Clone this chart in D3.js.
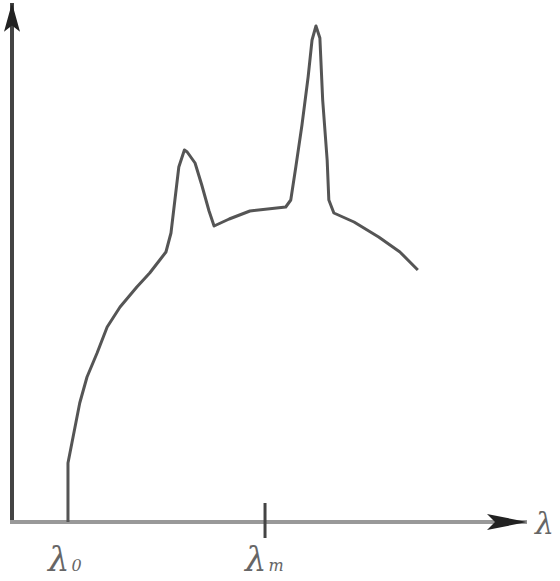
<!DOCTYPE html>
<html>
<head>
<meta charset="utf-8">
<script src="https://cdn.jsdelivr.net/npm/d3@7"></script>
<style>
  body { margin: 0; background: #fff; }
  svg { display: block; }
</style>
</head>
<body>
<svg id="chart" width="560" height="581"></svg>
<script>
// spectrum (arbitrary units)
var wavelength = [1.0, 1.0, 1.07, 1.21, 1.34, 1.52, 1.70, 1.93, 2.23, 2.46, 2.64, 2.75, 2.84,
                  2.91, 2.98, 3.08, 3.13, 3.27, 3.39, 3.52, 3.61, 3.88, 4.25, 4.89, 4.98,
                  5.07, 5.18, 5.29, 5.36, 5.43, 5.50, 5.55, 5.63, 5.66, 5.75, 6.11, 6.55, 6.93, 7.25];
var intensity  = [0, 11.8, 15.8, 23.8, 29, 33.8, 39, 43, 47, 49.8, 52.4, 54, 57.8,
                  64.4, 71, 74.4, 74, 71.8, 67.4, 62.2, 59.2, 60.6, 62.2, 63, 64.4,
                  71, 79.4, 89, 96.4, 99.2, 96.8, 84.4, 72.4, 64.4, 61.8, 60, 57, 54, 50.4];
var tickValues = [1.0, 4.52];
var tickSubs   = ["0", "m"];

var svg = d3.select("#chart"),
    width = +svg.attr("width"),
    height = +svg.attr("height");

var x = d3.scaleLinear().domain([0, 9.2]).range([12, 527]);
var y = d3.scaleLinear().domain([0, 100]).range([522, 22]);

var points = wavelength.map(function(d, i) { return [d, intensity[i]]; });

var defs = svg.append("defs");
defs.append("marker")
    .attr("id", "arrowUp")
    .attr("viewBox", "0 0 10 20")
    .attr("refX", 5).attr("refY", 0)
    .attr("markerUnits", "userSpaceOnUse")
    .attr("markerWidth", 16).attr("markerHeight", 40)
    .attr("orient", "0")
  .append("path")
    .attr("d", "M5,0 L10,18 L5,14 L0,18 Z")
    .attr("fill", "#222");

defs.append("marker")
    .attr("id", "arrowRight")
    .attr("viewBox", "0 0 20 12")
    .attr("refX", 20).attr("refY", 6)
    .attr("markerUnits", "userSpaceOnUse")
    .attr("markerWidth", 40).attr("markerHeight", 24)
    .attr("orient", "0")
  .append("path")
    .attr("d", "M0,2 L20,6 L0,10 L4,6 Z")
    .attr("fill", "#222");

// axes
svg.append("line")
    .attr("x1", x(0)).attr("y1", y(0) + 2)
    .attr("x2", x(0)).attr("y2", 3)
    .attr("stroke", "#444")
    .attr("stroke-width", 4)
    .attr("marker-end", "url(#arrowUp)");

svg.append("line")
    .attr("x1", x(0) - 2).attr("y1", y(0))
    .attr("x2", x(9.2)).attr("y2", y(0))
    .attr("stroke", "#999")
    .attr("stroke-width", 4)
    .attr("marker-end", "url(#arrowRight)");

// tick at lambda_m
svg.append("line")
    .attr("x1", x(tickValues[1])).attr("y1", y(0) - 19)
    .attr("x2", x(tickValues[1])).attr("y2", y(0) + 16)
    .attr("stroke", "#444")
    .attr("stroke-width", 3);

// curve
var line = d3.line()
    .x(function(d) { return x(d[0]); })
    .y(function(d) { return y(d[1]); });

svg.append("path")
    .datum(points)
    .attr("d", line)
    .attr("fill", "none")
    .attr("stroke", "#555")
    .attr("stroke-width", 3)
    .attr("stroke-linejoin", "round");

// labels
var labels = svg.selectAll(".lab")
    .data(tickValues)
    .enter().append("text")
      .attr("class", "lab")
      .attr("x", function(d) { return x(d) - 20; })
      .attr("y", 571)
      .attr("font-family", "DejaVu Serif, serif")
      .attr("font-style", "italic")
      .attr("font-size", 34)
      .attr("fill", "#666");
labels.append("tspan").text("λ");
labels.append("tspan")
    .attr("font-size", 16)
    .attr("dx", 2)
    .text(function(d, i) { return tickSubs[i]; });

svg.append("text")
    .attr("x", 535)
    .attr("y", 534)
    .attr("font-family", "DejaVu Serif, serif")
    .attr("font-style", "italic")
    .attr("font-size", 30)
    .attr("fill", "#666")
    .text("λ");
</script>
</body>
</html>
